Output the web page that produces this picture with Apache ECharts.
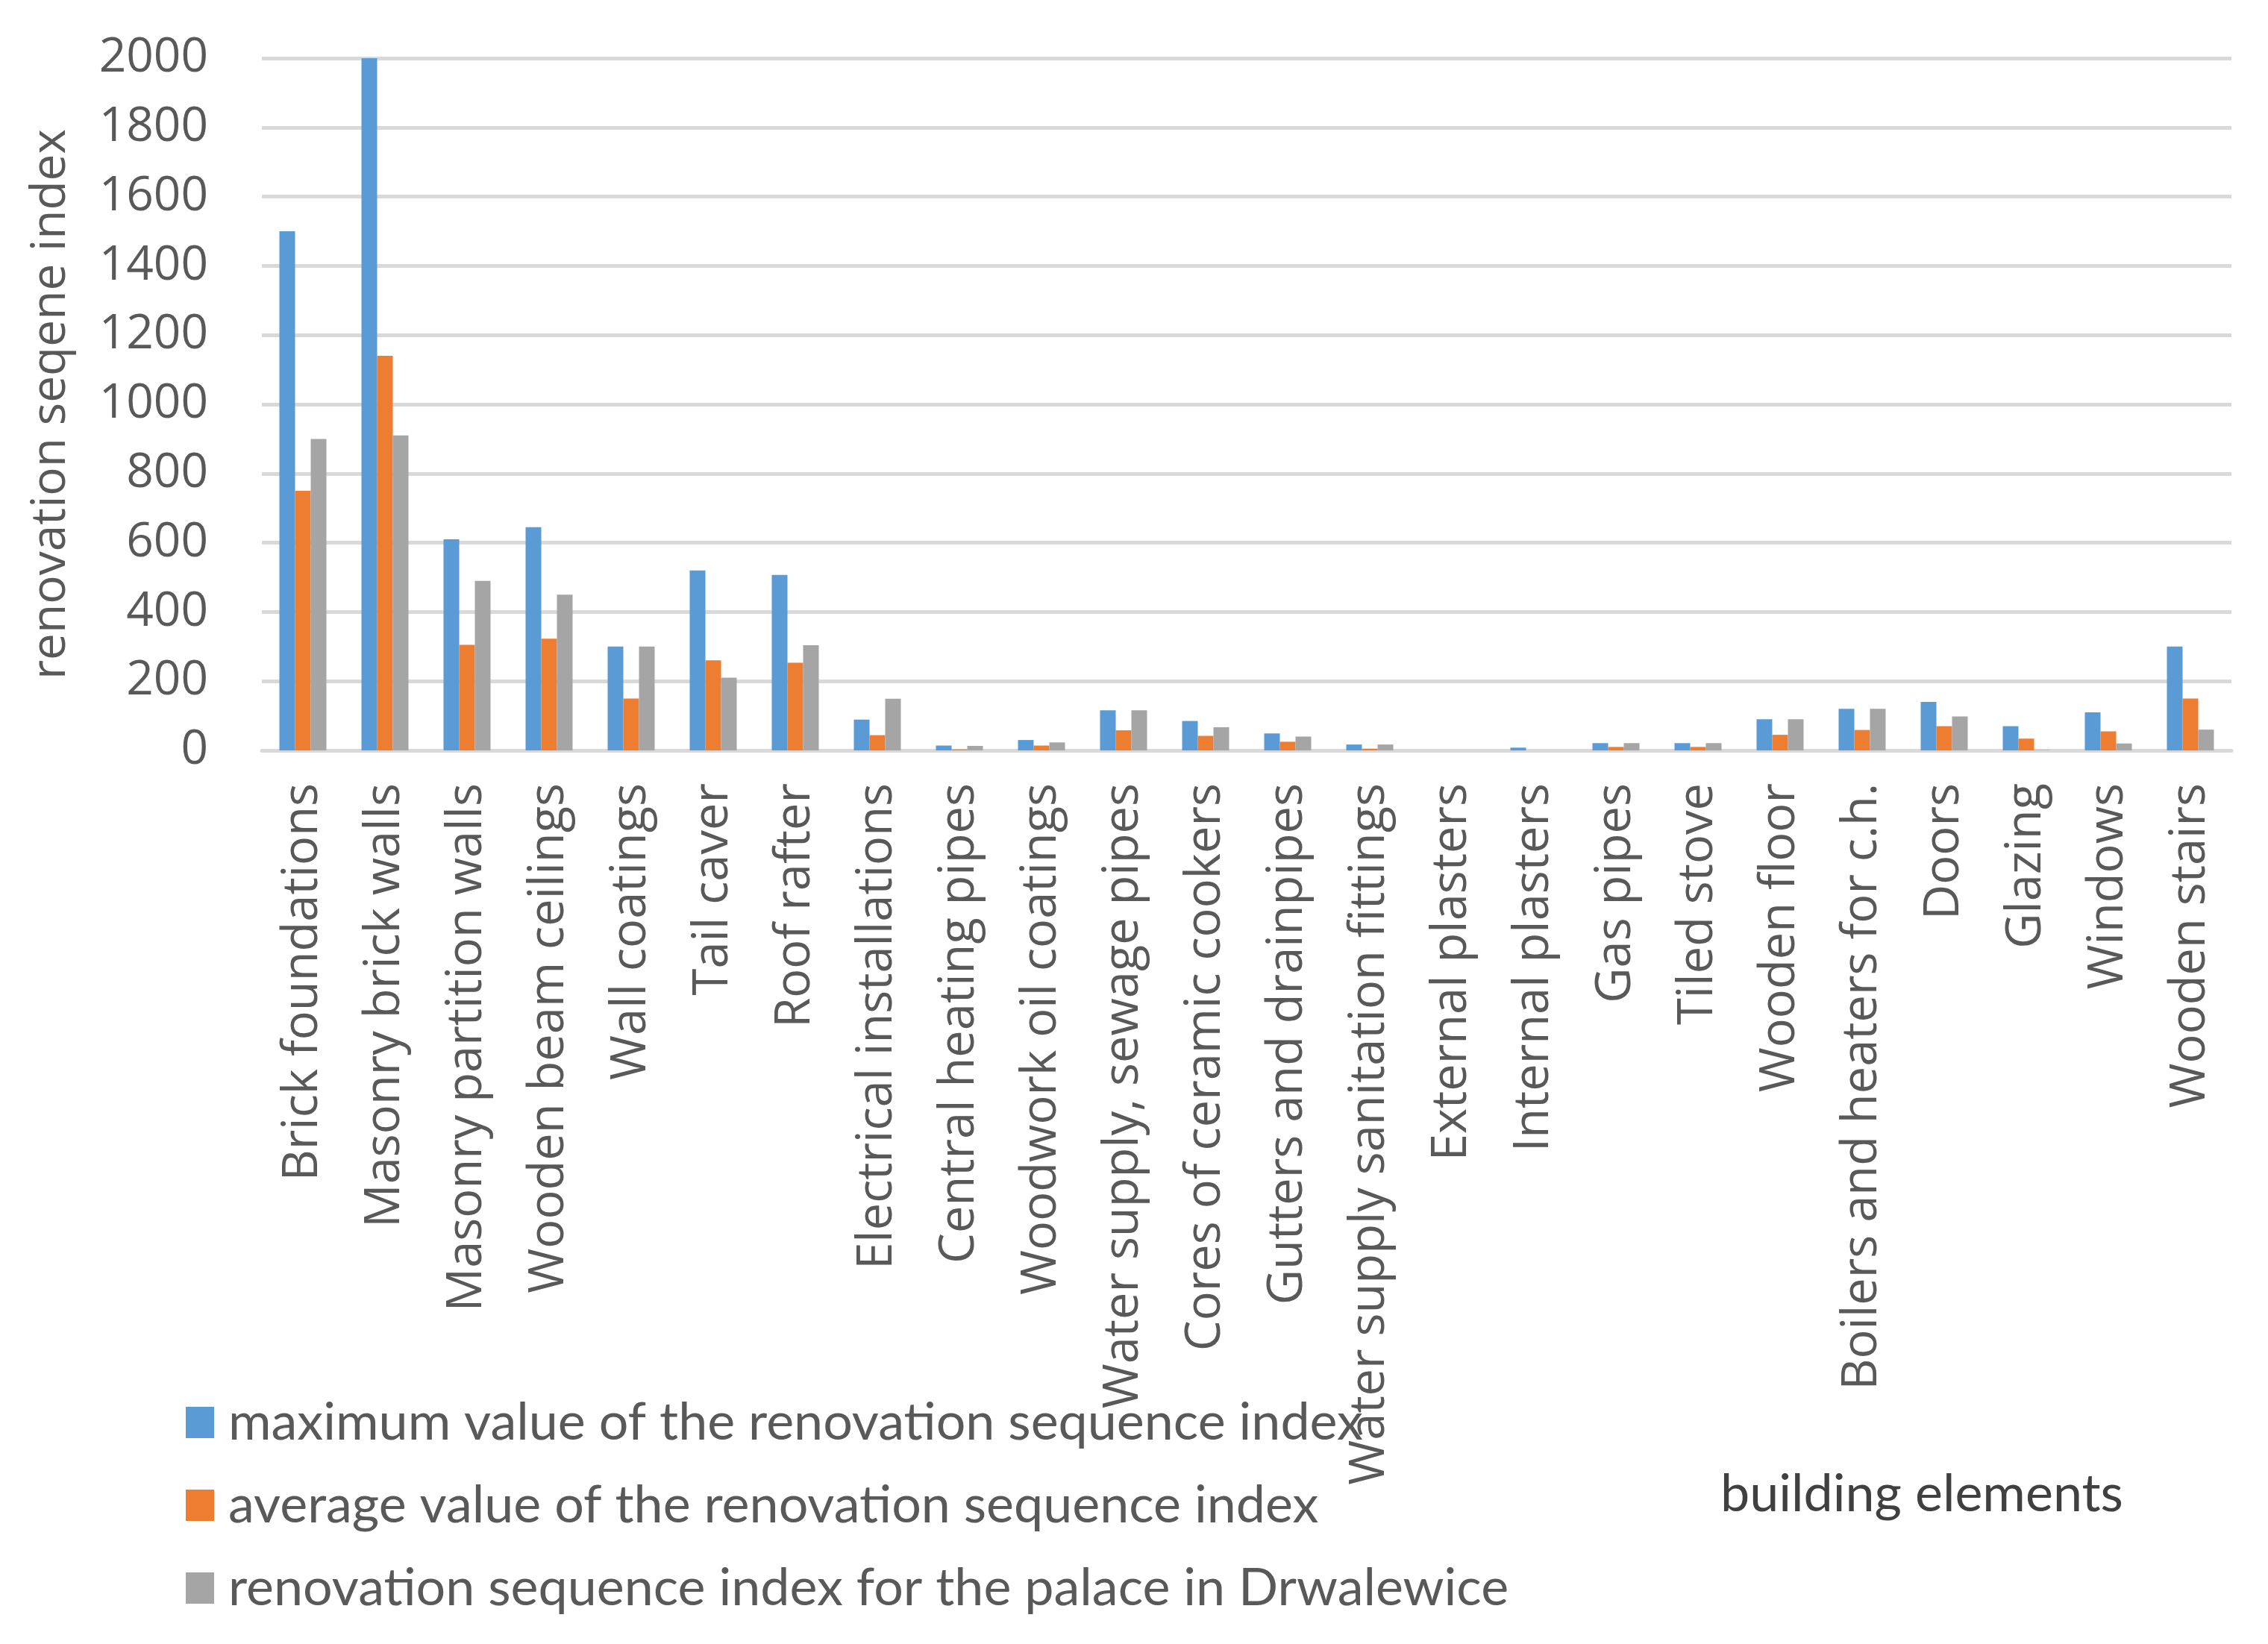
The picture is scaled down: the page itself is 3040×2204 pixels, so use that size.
<!DOCTYPE html>
<html>
<head>
<meta charset="utf-8">
<script src="https://cdn.jsdelivr.net/npm/echarts@6/dist/echarts.min.js"></script>
<style>
html,body{margin:0;padding:0;background:#fff;}
#chart{width:3040px;height:2204px;}
</style>
</head>
<body>
<div id="chart"></div>
<script>
const categories = ["Brick foundations","Masonry brick walls","Masonry partition walls","Wooden beam ceilings","Wall coatings","Tail caver","Roof rafter","Electrical installations","Central heating pipes","Woodwork oil coatings","Water supply, sewage pipes","Cores of ceramic cookers","Gutters and drainpipes","Water supply sanitation fittings","External plasters","Internal plasters","Gas pipes","Tiled stove","Wooden floor","Boilers and heaters for c.h.","Doors","Glazing","Windows","Wooden stairs"];
const maxValues = [1500,2000,610,645,300,520,507,89,14,30,116,85,49,17,0,8,21,21,90,120,140,70,110,300];
const avgValues = [750,1140,305,323,150,260,253,44,3,14,58,42,25,5,0,0,10,10,45,59,70,34,55,150];
const palaceValues = [900,910,490,450,300,210,304,149,13,23,116,67,40,17,0,0,21,21,90,120,98,1,20,60];
const seriesNames = ["maximum value of the renovation sequence index","average value of the renovation sequence index","renovation sequence index for the palace in Drwalewice"];
const yTicks = {min:0, max:2000, interval:200};

const chart = echarts.init(document.getElementById('chart'));
const labelFont = '"Open Sans", sans-serif';
const legendFont = 'Lato, sans-serif';
const legendTops = [1872, 1983, 2094];
chart.setOption({
  backgroundColor:'#ffffff',
  animation:false,
  color:['#5b9bd5','#ed7d31','#a5a5a5'],
  grid:{left:351, top:78, width:2640, height:928, containLabel:false},
  legend: seriesNames.map((n, i) => ({
    orient:'horizontal', left:249, top:legendTops[i], itemWidth:38, itemHeight:42,
    padding:0, icon:'rect',
    textStyle:{fontFamily:legendFont, fontSize:70, color:'#595959', padding:[0,0,0,14], lineHeight:42},
    data:[n]
  })),
  graphic:[{
    type:'text', left:2306, top:1968,
    style:{text:'building elements', fontFamily:legendFont, fontSize:70, fill:'#404040'}
  }],
  xAxis:{
    type:'category', data:categories,
    axisLine:{show:true, lineStyle:{color:'#d9d9d9', width:5}},
    axisTick:{show:false},
    axisLabel:{rotate:90, margin:44, fontFamily:labelFont, fontSize:65, color:'#595959', interval:0}
  },
  yAxis:{
    type:'value', min:yTicks.min, max:yTicks.max, interval:yTicks.interval,
    name:'renovation seqene index', nameLocation:'middle', nameGap:250,
    nameTextStyle:{fontFamily:labelFont, fontSize:64, color:'#595959'},
    axisLine:{show:false}, axisTick:{show:false},
    axisLabel:{margin:72, fontFamily:labelFont, fontSize:64, color:'#595959', formatter: v => String(v)},
    splitLine:{lineStyle:{color:'#d9d9d9', width:5}}
  },
  series:[
    {name:seriesNames[0], type:'bar', data:maxValues, barWidth:21, barGap:'0%'},
    {name:seriesNames[1], type:'bar', data:avgValues, barWidth:21, barGap:'0%'},
    {name:seriesNames[2], type:'bar', data:palaceValues, barWidth:21, barGap:'0%'}
  ]
});
</script>
</body>
</html>
